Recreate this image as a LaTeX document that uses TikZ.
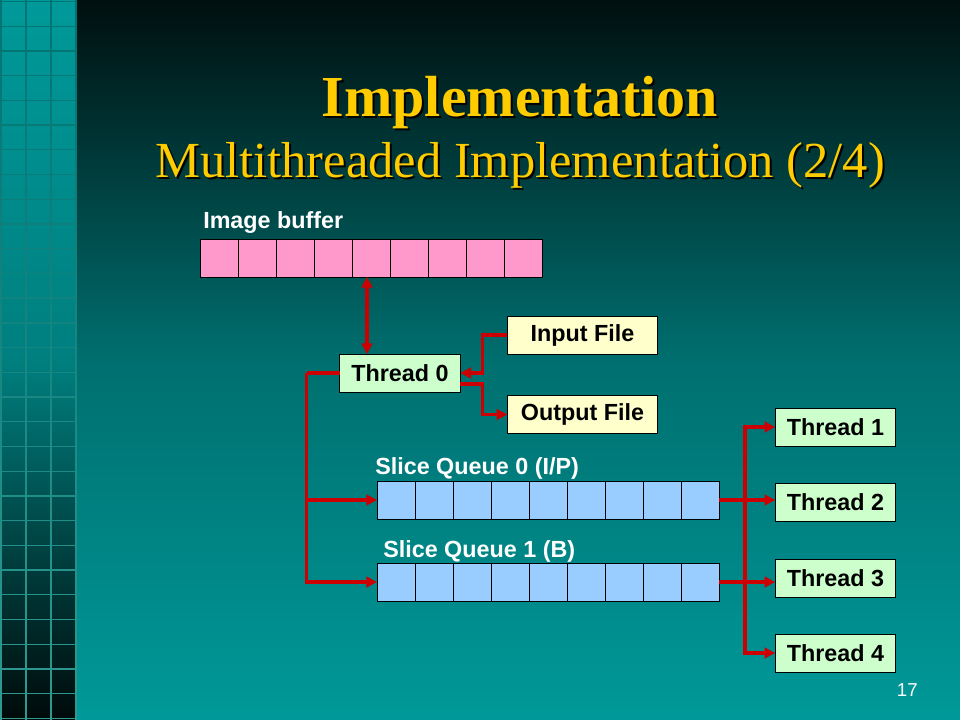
\documentclass[tikz,border=0pt]{standalone}
\usepackage{fontspec}
\setmainfont{Liberation Serif}
\setsansfont{Liberation Sans}
\usetikzlibrary{arrows.meta,positioning,calc}
\definecolor{bgtop}{HTML}{000F0F}
\definecolor{bgmid}{HTML}{006F6F}
\definecolor{bgbot}{HTML}{009999}
\definecolor{striptop}{HTML}{009999}
\definecolor{stripmid}{HTML}{007F7F}
\definecolor{stripbot}{HTML}{000A0A}
\definecolor{gridtop}{HTML}{007373}
\definecolor{gridbot}{HTML}{2E9A90}
\definecolor{titleyellow}{HTML}{FFCC00}
\definecolor{thrgreen}{HTML}{CCFFCC}
\definecolor{fileyellow}{HTML}{FFFFCC}
\definecolor{bufpink}{HTML}{FF99CC}
\definecolor{queueblue}{HTML}{99CCFF}
\definecolor{linkred}{HTML}{CC0000}
\begin{document}
\begin{tikzpicture}[x=0.75pt,y=-0.75pt,
	box/.style={draw=black,line width=0.75pt,inner sep=0pt,outer sep=0pt,
		minimum height=28.5pt,font=\sffamily\bfseries\fontsize{17.5}{20}\selectfont},
	thread/.style={box,fill=thrgreen,minimum width=90.5pt},
	file/.style={box,fill=fileyellow,minimum width=113pt},
	cell/.style={draw=black,line width=0.75pt,inner sep=0pt,outer sep=0pt,
		minimum width=28.5pt,minimum height=28.5pt},
	link/.style={draw=linkred,line width=2.4pt},
	tip/.style={link,-{Triangle[length=8pt,width=8pt]}},
	tips/.style={link,{Triangle[length=8pt,width=8pt]}-{Triangle[length=8pt,width=8pt]}},
	caption/.style={text=white,inner sep=0pt,font=\sffamily\bfseries\fontsize{17.5}{20}\selectfont}]
	\useasboundingbox (0,0) rectangle (960,720);
	% background
	\shade[top color=bgtop,bottom color=bgbot,middle color=bgmid] (76,0) rectangle (960,720);
	\shade[top color=striptop,bottom color=stripbot,middle color=stripmid] (0,0) rectangle (76,720);
	\foreach \k in {0,...,29} {
		\pgfmathtruncatemacro\p{100*\k/29}
		\draw[gridbot!\p!gridtop,line width=1pt] (0,{1.5+24.72*\k}) -- (76,{1.5+24.72*\k});
	}
	\foreach \x in {1,26,51,76}
		\shade[top color=gridtop,bottom color=gridbot] (\x-0.8,0) rectangle (\x+0.8,720);
	% title
	\foreach \c/\d in {black/2,titleyellow/0} {
		\node[text=\c,font=\rmfamily\bfseries\fontsize{43.5}{50}\selectfont,anchor=base]
			at (520+\d,117+\d) {Implementation};
		\node[text=\c,font=\rmfamily\fontsize{37.9}{44}\selectfont,anchor=base]
			at (520+\d,178+\d) {Multithreaded Implementation (2/4)};
	}
	% buffers
	\node[caption,anchor=base west] (buflabel) at (203,229) {Image buffer};
	\foreach \i in {1,...,9}
		\node[cell,fill=bufpink] (buf\i) at ({181+38*\i},258.5) {};
	\node[caption,anchor=base west] (q0label) at (375,474) {Slice Queue 0 (I/P)};
	\node[caption,anchor=base west] (q1label) at (383,557) {Slice Queue 1 (B)};
	\foreach \q/\y in {0/500,1/582}
		\foreach \i in {1,...,9}
			\node[cell,fill=queueblue] (slice\q\i) at ({358+38*\i},\y) {};
	% threads and files
	\node[thread] (thr0) at (400,373) {Thread 0};
	\node[file] (inp) at (582.5,335) {Input File};
	\node[file] (outp) at (582.5,414.5) {Output File};
	\foreach \n/\y in {1/427,2/502,3/578,4/653}
		\node[thread] (thr\n) at (835.5,\y) {Thread \n};
	\node[text=white,inner sep=0pt,font=\sffamily\fontsize{14}{16}\selectfont,anchor=base east]
		(pageno) at (918,696) {17};
	% connectors
	\coordinate (bufport) at (367,277);
	\draw[tips] (bufport) -- (bufport |- thr0.north);
	\draw[tip] (inp.west) -- ++(-25,0) |- (thr0.east);
	\draw[tip] ($(thr0.east)+(0,11)$) -- ++(22,0) |- (outp.west);
	\coordinate (fork) at ($(thr0.west)+(-33,0)$);
	\draw[link] (thr0.west) -- (fork);
	\draw[tip] (fork) |- (slice01.west);
	\draw[tip] (fork) |- (slice11.west);
	\coordinate (join0) at ($(slice09.east)+(26,0)$);
	\coordinate (join1) at ($(slice19.east)+(26,0)$);
	\draw[tip] (slice09.east) -- (slice09.east -| thr2.west);
	\draw[tip] (slice19.east) -- (slice19.east -| thr3.west);
	\draw[link] (join0) -- (join1);
	\draw[tip] (join0) |- (thr1.west);
	\draw[tip] (join1) |- (thr4.west);
\end{tikzpicture}
\end{document}
